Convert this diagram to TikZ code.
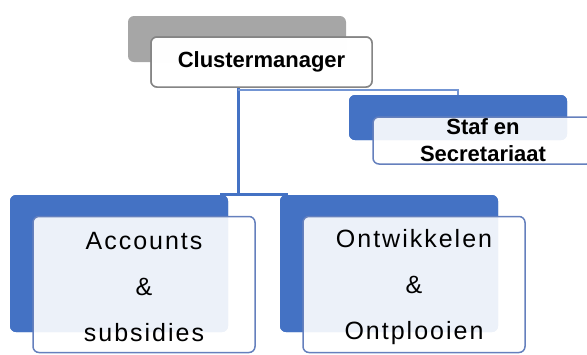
\documentclass[tikz,border=0pt]{standalone}
\usepackage{fontspec}
\setmainfont{Liberation Sans}
\definecolor{cblue}{HTML}{4472C4}
\definecolor{cgray}{HTML}{A6A6A6}
\definecolor{fborder}{HTML}{6580BD}
\definecolor{gborder}{HTML}{858585}
\tikzset{
  backbox/.style={rounded corners=6pt, inner sep=0pt, draw=none},
  frontbox/.style={rounded corners=6pt, inner sep=0pt, fill=white, fill opacity=0.9, text opacity=1, line width=1.5pt, draw=fborder},
  conn/.style={draw=cblue, line width=3pt},
  thinconn/.style={draw=cblue!75, line width=1.6pt},
  bigtext/.style={font=\addfontfeatures{LetterSpace=8}\fontsize{25}{46}\selectfont, align=center},
  midtext/.style={font=\bfseries\fontsize{22}{27}\selectfont, align=center}
}
\begin{document}
\begin{tikzpicture}[x=1pt,y=-1pt]
\useasboundingbox (0,0) rectangle (587,354);
% back boxes
\node[backbox, fill=cgray, minimum width=218pt, minimum height=46pt] (cmback) at (237,39) {};
\node[backbox, fill=cblue, minimum width=218pt, minimum height=45pt] (sfback) at (458,117.5) {};
\node[backbox, fill=cblue, minimum width=218pt, minimum height=137pt] (acback) at (119,263.5) {};
\node[backbox, fill=cblue, minimum width=218pt, minimum height=137pt] (onback) at (389,263.5) {};
% connectors
\coordinate (j1) at (238,194.5);
\coordinate (j2) at (238,90);
\node[frontbox, draw=gborder, minimum width=221pt, minimum height=50pt] (cm) at (261.5,62) {};
\draw[conn] (cm.south -| j1) -- (j1);
\draw[conn] ([xshift=-8pt]acback.north east |- j1) -- ([xshift=8pt]onback.north west |- j1);
\draw[thinconn] (j2) -- (j2 -| sfback.north) -- (sfback.north);
% redraw back boxes over connectors
\node[backbox, fill=cblue, minimum width=218pt, minimum height=45pt] at (sfback) {};
\node[backbox, fill=cblue, minimum width=218pt, minimum height=137pt] at (acback) {};
\node[backbox, fill=cblue, minimum width=218pt, minimum height=137pt] at (onback) {};
% front boxes
\node[frontbox, draw=gborder, minimum width=221pt, minimum height=50pt, midtext] (cmtext) at (261.5,62) {Clustermanager};
\node[frontbox, minimum width=220pt, minimum height=47pt] (sf) at (483,140.5) {};
\node[midtext] (sftext) at (sf.center) {Staf en\\Secretariaat};
\node[frontbox, minimum width=222pt, minimum height=136pt] (ac) at (144,284.5) {};
\node[bigtext] (actext) at ([yshift=-3pt]ac.center) {Accounts\\\&\\subsidies};
\node[frontbox, minimum width=222pt, minimum height=136pt] (on) at (414,284.5) {};
\node[bigtext] (ontext) at ([yshift=-3pt]on.center) {Ontwikkelen\\\&\\Ontplooien};
\end{tikzpicture}
\end{document}
